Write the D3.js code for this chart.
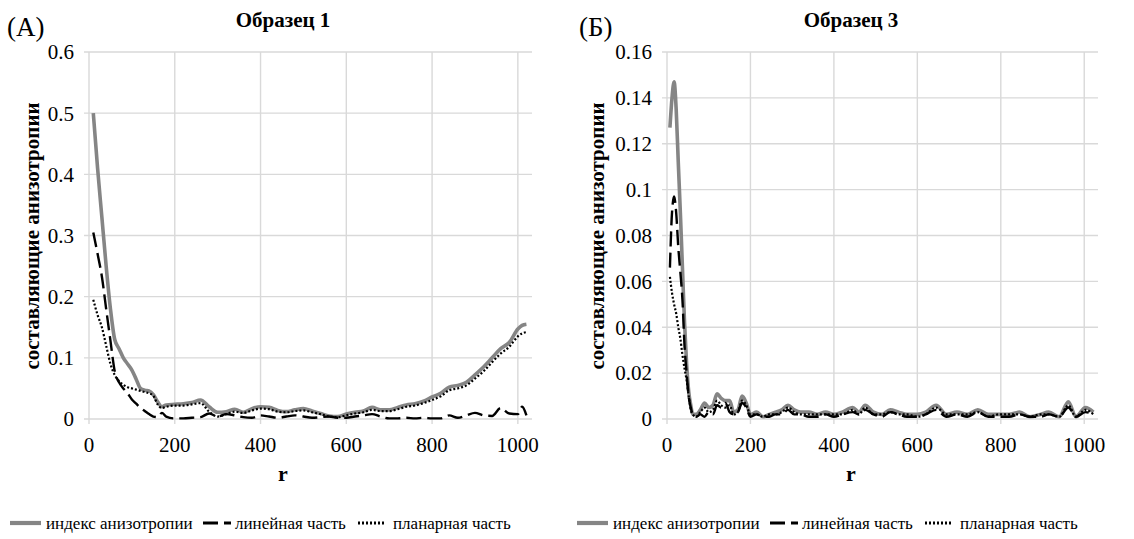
<!DOCTYPE html>
<html>
<head>
<meta charset="utf-8">
<script src="https://cdn.jsdelivr.net/npm/d3@7"></script>
<style>
    body { margin: 0; background: #fff; }
</style>
</head>
<body>
<svg id="chart" width="1134" height="539" font-family="'Liberation Serif', 'DejaVu Serif', 'Times New Roman', serif"></svg>
<script>
// ---- data ----
const xTicks = [0, 200, 400, 600, 800, 1000]
const yTicks1 = [0, 0.1, 0.2, 0.3, 0.4, 0.5, 0.6]
const yTicks3 = [0, 0.02, 0.04, 0.06, 0.08, 0.1, 0.12, 0.14, 0.16]

const seriesNames = ['индекс анизотропии', 'линейная часть', 'планарная часть']

// Образец 1
const r1 = [10, 20, 30, 40, 50, 60, 70, 80, 90, 100, 110, 120, 130, 140, 150, 160, 170, 180,
    200, 220, 240, 260, 280, 300, 320, 340, 360, 380, 400, 420, 440, 460, 480, 500, 520, 540,
    560, 580, 600, 620, 640, 660, 680, 700, 720, 740, 760, 780, 800, 820, 840, 860, 880, 900,
    920, 940, 960, 980, 1000, 1010, 1020]
const index1 = [0.5, 0.41, 0.33, 0.25, 0.18, 0.13, 0.115, 0.1, 0.09, 0.08, 0.065, 0.05, 0.047, 0.046, 0.04, 0.028, 0.02, 0.023,
    0.024, 0.025, 0.027, 0.031, 0.02, 0.011, 0.012, 0.016, 0.011, 0.017, 0.02, 0.019, 0.014, 0.012, 0.015, 0.017, 0.013, 0.009,
    0.005, 0.004, 0.008, 0.011, 0.013, 0.019, 0.015, 0.015, 0.019, 0.023, 0.025, 0.029, 0.036, 0.042, 0.052, 0.055, 0.06, 0.072,
    0.085, 0.1, 0.115, 0.125, 0.147, 0.153, 0.155]
const linear1 = [0.305, 0.27, 0.233, 0.18, 0.128, 0.078, 0.06, 0.05, 0.042, 0.032, 0.025, 0.018, 0.013, 0.008, 0.004, 0.003, 0.01, 0.004,
    0.001, 0.001, 0.002, 0.003, 0.009, 0.004, 0.008, 0.006, 0.003, 0.002, 0.006, 0.004, 0.002, 0.004, 0.006, 0.004, 0.002, 0.003,
    0.004, 0.002, 0.002, 0.004, 0.006, 0.008, 0.004, 0.001, 0.001, 0.002, 0.001, 0.002, 0.001, 0.001, 0.006, 0.002, 0.006, 0.01,
    0.006, 0.005, 0.018, 0.009, 0.008, 0.02, 0.006]
const planar1 = [0.195, 0.17, 0.15, 0.12, 0.09, 0.072, 0.062, 0.056, 0.052, 0.05, 0.048, 0.046, 0.044, 0.042, 0.038, 0.024, 0.018, 0.02,
    0.022, 0.022, 0.024, 0.026, 0.012, 0.004, 0.008, 0.012, 0.01, 0.014, 0.017, 0.016, 0.012, 0.011, 0.013, 0.014, 0.011, 0.008,
    0.004, 0.003, 0.006, 0.009, 0.011, 0.015, 0.013, 0.013, 0.016, 0.02, 0.022, 0.026, 0.031, 0.037, 0.047, 0.05, 0.055, 0.066,
    0.078, 0.093, 0.107, 0.118, 0.135, 0.14, 0.142]

// Образец 3
const r3 = [7, 12, 17, 22, 27, 32, 37, 42, 47, 52, 57, 62, 70, 80, 90, 100, 110, 120, 130, 140, 150, 160, 170, 180, 190,
    200, 215, 230, 245, 260, 275, 290, 305, 320, 340, 360, 380, 400, 420, 445, 460, 475, 495, 515, 535, 555, 575,
    600, 620, 645, 670, 695, 720, 745, 770, 795, 820, 845, 870, 895, 915, 940, 962, 980, 1003, 1022]
const index3 = [0.127, 0.14, 0.147, 0.135, 0.112, 0.09, 0.066, 0.042, 0.024, 0.012, 0.006, 0.002, 0.002, 0.004, 0.007, 0.005, 0.006,
    0.011, 0.009, 0.008, 0.008, 0.003, 0.004, 0.01, 0.007,
    0.002, 0.003, 0.001, 0.002, 0.003, 0.004, 0.006, 0.004, 0.003, 0.003, 0.002, 0.003, 0.002, 0.003, 0.005, 0.003, 0.006,
    0.003, 0.002, 0.004, 0.003, 0.002,
    0.002, 0.003, 0.006, 0.002, 0.003, 0.002, 0.004, 0.002, 0.002, 0.002, 0.003, 0.001, 0.002, 0.003, 0.001, 0.0075, 0.001,
    0.005, 0.003]
const linear3 = [0.066, 0.09, 0.097, 0.09, 0.075, 0.064, 0.052, 0.032, 0.02, 0.01, 0.005, 0.002, 0.001, 0.002, 0.001, 0.003, 0.002,
    0.006, 0.005, 0.007, 0.003, 0.002, 0.003, 0.007, 0.005,
    0.001, 0.002, 0.001, 0.001, 0.002, 0.002, 0.004, 0.002, 0.002, 0.001, 0.001, 0.002, 0.001, 0.002, 0.003, 0.002, 0.004,
    0.002, 0.001, 0.003, 0.002, 0.001,
    0.001, 0.002, 0.004, 0.001, 0.002, 0.001, 0.003, 0.001, 0.001, 0.001, 0.002, 0.001, 0.001, 0.002, 0.001, 0.005, 0.001,
    0.003, 0.002]
const planar3 = [0.062, 0.055, 0.05, 0.046, 0.04, 0.035, 0.028, 0.022, 0.017, 0.01, 0.004, 0.002, 0.001, 0.003, 0.005, 0.003, 0.004,
    0.008, 0.006, 0.005, 0.006, 0.002, 0.003, 0.008, 0.006,
    0.002, 0.002, 0.001, 0.002, 0.002, 0.003, 0.005, 0.003, 0.002, 0.002, 0.002, 0.002, 0.002, 0.002, 0.004, 0.002, 0.005,
    0.002, 0.002, 0.003, 0.002, 0.002,
    0.001, 0.002, 0.005, 0.002, 0.002, 0.002, 0.003, 0.001, 0.002, 0.002, 0.002, 0.001, 0.002, 0.002, 0.001, 0.006, 0.001,
    0.004, 0.002]

// ---- drawing ----
const svg = d3.select('#chart')

// line styles for the three series: grey solid, long dash, dots
const styles = [
    {stroke: '#858585', width: 3.6, dash: null},
    {stroke: '#000', width: 2.4, dash: '15,6'},
    {stroke: '#000', width: 2.2, dash: '2,2'}
]
const gridColor = '#d9d9d9'

function panel(cfg) {
    const x = d3.scaleLinear().domain([0, 1033]).range([cfg.left, cfg.right])
    const y = d3.scaleLinear().domain([0, cfg.yTicks[cfg.yTicks.length - 1]]).range([419, 52])

    const g = svg.append('g')

    // gridlines (the axes use the same light grey)
    g.append('g').selectAll('line').data(cfg.yTicks).enter().append('line')
        .attr('x1', cfg.left - 5).attr('x2', cfg.right)
        .attr('y1', d => y(d)).attr('y2', d => y(d))
        .attr('stroke', gridColor).attr('stroke-width', 1.4)
    g.append('g').selectAll('line').data(xTicks).enter().append('line')
        .attr('x1', d => x(d)).attr('x2', d => x(d))
        .attr('y1', y(0) + 5).attr('y2', y(cfg.yTicks[cfg.yTicks.length - 1]))
        .attr('stroke', gridColor).attr('stroke-width', 1.4)

    // tick labels
    g.append('g').selectAll('text').data(cfg.yTicks).enter().append('text')
        .attr('x', cfg.left - 15).attr('y', d => y(d)).attr('dy', '0.35em')
        .attr('text-anchor', 'end').style('font-size', '21px')
        .text(d => String(+d.toFixed(2)))
    g.append('g').selectAll('text').data(xTicks).enter().append('text')
        .attr('x', d => x(d)).attr('y', 452)
        .attr('text-anchor', 'middle').style('font-size', '21px')
        .text(d => d)

    // series
    const line = d3.line()
        .x((d, i) => x(cfg.r[i]))
        .y(d => y(d))
        .curve(d3.curveMonotoneX)
    cfg.series.forEach((s, i) => {
        g.append('path').datum(s)
            .attr('d', line)
            .attr('fill', 'none')
            .attr('stroke', styles[i].stroke)
            .attr('stroke-width', styles[i].width)
            .attr('stroke-dasharray', styles[i].dash)
            .attr('stroke-linejoin', 'round')
    })

    // titles
    g.append('text').attr('x', cfg.titleX).attr('y', 27)
        .attr('text-anchor', 'middle').style('font-size', '21px').style('font-weight', 'bold')
        .text(cfg.title)
    g.append('text').attr('x', cfg.tagX).attr('y', 36)
        .style('font-size', '27px')
        .text(cfg.tag)
    g.append('text').attr('transform', 'translate(' + cfg.yLabelX + ',236) rotate(-90)')
        .attr('text-anchor', 'middle').attr('dy', '0.35em')
        .style('font-size', '21px').style('font-weight', 'bold')
        .text('составляющие анизотропии')
    g.append('text').attr('x', cfg.titleX).attr('y', 481)
        .attr('text-anchor', 'middle').style('font-size', '22px').style('font-weight', 'bold')
        .text('r')

    // legend below the panel
    const lg = g.append('g').attr('transform', 'translate(' + cfg.legendX + ',523)')
    const sampleX = [[0, 31], [193, 221], [348, 374]]
    const labelX = [36, 225, 383]
    seriesNames.forEach((name, i) => {
        lg.append('line')
            .attr('x1', sampleX[i][0]).attr('x2', sampleX[i][1])
            .attr('stroke', styles[i].stroke)
            .attr('stroke-width', styles[i].width + 0.6)
            .attr('stroke-dasharray', styles[i].dash)
        lg.append('text').attr('x', labelX[i]).attr('dy', '0.35em')
            .style('font-size', '17px')
            .text(name)
    })
}

panel({
    left: 89, right: 532, yTicks: yTicks1, r: r1,
    series: [index1, linear1, planar1],
    title: 'Образец 1', titleX: 283, tag: '(А)', tagX: 7,
    yLabelX: 32, legendX: 10
})
panel({
    left: 667, right: 1098, yTicks: yTicks3, r: r3,
    series: [index3, linear3, planar3],
    title: 'Образец 3', titleX: 851, tag: '(Б)', tagX: 579,
    yLabelX: 597, legendX: 577
})
</script>
</body>
</html>
